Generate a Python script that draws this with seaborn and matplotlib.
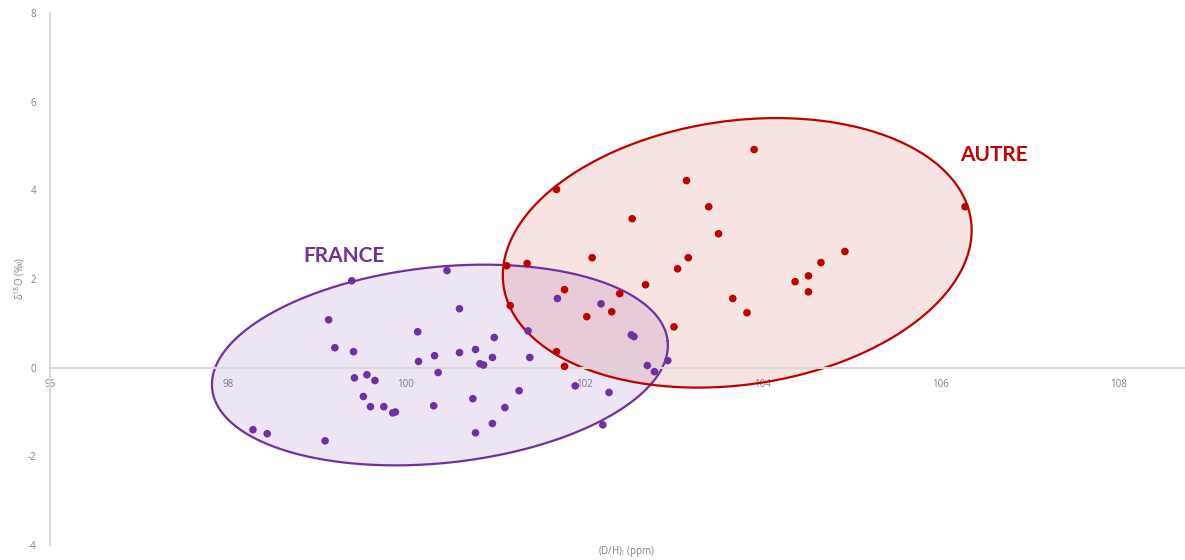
import numpy as np
import pandas as pd
import matplotlib
matplotlib.use('Agg')
import matplotlib.pyplot as plt
import seaborn as sns

# Data
france_dh = [99.39, 100.46, 99.13, 100.60, 100.13, 99.20, 99.41, 100.60, 100.78, 100.32,
             100.14, 100.83, 100.87, 100.36, 99.42, 99.56, 99.65, 99.52, 99.60, 99.75,
             99.85, 99.88, 100.31, 100.75, 100.78, 98.28, 98.44, 99.09, 101.70, 102.19,
             101.37, 100.99, 100.97, 101.39, 102.53, 102.56, 102.71, 102.79, 102.94, 101.90,
             102.28, 101.27, 101.11, 100.97, 102.21]
france_o18 = [1.96, 2.19, 1.08, 1.33, 0.81, 0.45, 0.36, 0.34, 0.41, 0.27,
              0.14, 0.09, 0.06, -0.11, -0.23, -0.16, -0.29, -0.65, -0.88, -0.88,
              -1.02, -1.00, -0.86, -0.70, -1.47, -1.40, -1.49, -1.65, 1.56, 1.44,
              0.83, 0.68, 0.23, 0.23, 0.74, 0.70, 0.05, -0.09, 0.16, -0.41,
              -0.56, -0.52, -0.90, -1.26, -1.29]

autre_dh = [101.36, 102.09, 103.05, 103.17, 102.69, 101.78, 102.40, 101.17, 102.31, 102.03,
            103.01, 101.69, 101.78, 101.13, 103.91, 101.69, 103.15, 103.40, 102.54, 103.51,
            106.28, 104.93, 104.66, 104.52, 104.37, 104.52, 103.67, 103.83]
autre_o18 = [2.35, 2.48, 2.23, 2.48, 1.87, 1.76, 1.67, 1.40, 1.26, 1.15,
             0.92, 0.36, 0.03, 2.30, 4.92, 4.02, 4.22, 3.63, 3.36, 3.02,
             3.63, 2.62, 2.37, 2.07, 1.94, 1.71, 1.56, 1.24]

x_ticks = [96, 98, 100, 102, 104, 106, 108]
y_ticks = [-4, -2, 0, 2, 4, 6, 8]

purple = '#7030A0'
red = '#C00000'
grey = '#808080'

df = pd.DataFrame({
    'dh': france_dh + autre_dh,
    'o18': france_o18 + autre_o18,
    'origine': ['FRANCE'] * len(france_dh) + ['AUTRE'] * len(autre_dh),
})

sns.set_style('white')
plt.rcParams['font.family'] = ['Open Sans', 'DejaVu Sans']
plt.rcParams['axes.unicode_minus'] = False

fig = plt.figure(figsize=(11.85, 5.6), dpi=100)
ax = fig.add_axes([50 / 1185, 15 / 560, 1135 / 1185, 532 / 560])
ax.set_xlim(96, 108.75)
ax.set_ylim(-4, 8)


# Ellipse drawn in pixel space so it keeps its shape on the unequal axes
def draw_ellipse(ax, cx, cy, a_px, b_px, angle, color, alpha):
    t = np.linspace(0, 2 * np.pi, 400)
    c = ax.transData.transform((cx, cy))
    th = np.deg2rad(angle)
    px = c[0] + a_px * np.cos(t) * np.cos(th) - b_px * np.sin(t) * np.sin(th)
    py = c[1] + a_px * np.cos(t) * np.sin(th) + b_px * np.sin(t) * np.cos(th)
    pts = ax.transData.inverted().transform(np.column_stack([px, py]))
    ax.fill(pts[:, 0], pts[:, 1], color=color, alpha=alpha, lw=0, zorder=1)
    ax.plot(pts[:, 0], pts[:, 1], color=color, lw=1.6, zorder=2)


draw_ellipse(ax, 100.38, 0.06, 229, 98, 6, purple, 0.12)
draw_ellipse(ax, 103.72, 2.59, 236, 132, 8, red, 0.11)

sns.scatterplot(data=df, x='dh', y='o18', hue='origine',
                palette={'FRANCE': purple, 'AUTRE': red},
                s=30, edgecolor='none', legend=False, ax=ax, zorder=3)

# Group labels
ax.text(99.3, 2.53, 'FRANCE', color=purple, fontsize=15, fontweight='bold',
        ha='center', va='center', family=['Lato', 'DejaVu Sans'])
ax.text(106.6, 4.8, 'AUTRE', color=red, fontsize=15, fontweight='bold',
        ha='center', va='center', family=['Lato', 'DejaVu Sans'])

# Excel-like axes: x axis crossing at y = 0
for side in ['top', 'right']:
    ax.spines[side].set_visible(False)
ax.spines['bottom'].set_position(('data', 0))
ax.spines['bottom'].set_color('#D9D9D9')
ax.spines['left'].set_color('#D9D9D9')
ax.spines['bottom'].set_linewidth(1.5)
ax.spines['left'].set_linewidth(1.5)

ax.set_xticks(x_ticks)
ax.set_yticks(y_ticks)
ax.tick_params(axis='x', length=3, color='#D9D9D9', pad=5, labelsize=7, labelcolor=grey)
ax.tick_params(axis='y', length=0, pad=10, labelsize=7, labelcolor=grey)

ax.set_xlabel('(D/H)$_\\mathregular{I}$ (ppm)', fontsize=7, color=grey)
ax.set_ylabel('δ$^\\mathregular{18}$O (‰)', fontsize=7, color=grey)
ax.xaxis.set_label_coords(0.508, 0.002)
ax.yaxis.set_label_coords(-0.02, 0.5)

plt.savefig('out.png', dpi=100)
